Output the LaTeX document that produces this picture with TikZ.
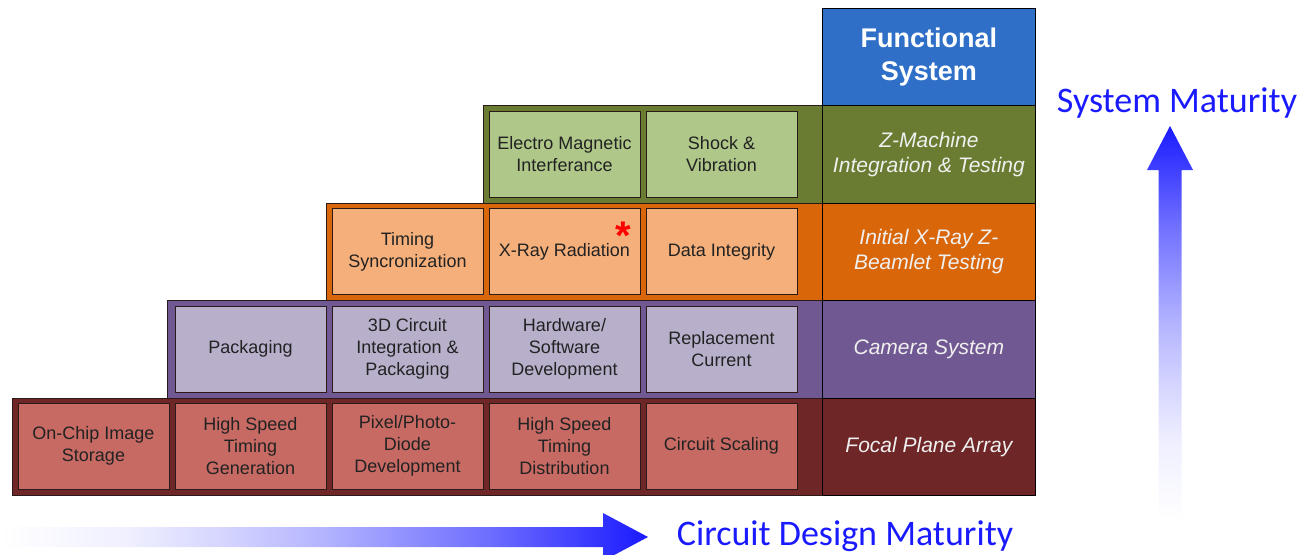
\documentclass[tikz,border=0pt]{standalone}
\usepackage{fontspec}
\setmainfont{Liberation Sans}
\newfontfamily\calibri{Carlito}
\definecolor{redband}{HTML}{6E2627}
\definecolor{redbox}{HTML}{C86A64}
\definecolor{purband}{HTML}{705893}
\definecolor{purbox}{HTML}{B8B0CB}
\definecolor{oraband}{HTML}{D9670A}
\definecolor{orabox}{HTML}{F5AF7B}
\definecolor{greband}{HTML}{697C31}
\definecolor{grebox}{HTML}{AFC88A}
\definecolor{topblue}{HTML}{2F6FC7}
\definecolor{arrblue}{HTML}{1A1AFF}
\definecolor{txt}{HTML}{222222}
\definecolor{lbl}{HTML}{F0F0F0}
\definecolor{edge}{HTML}{2A1A1A}
\pgfdeclareverticalshading{vfade}{100bp}{color(0bp)=(white); color(25bp)=(white); color(35bp)=(arrblue!7!white); color(42.5bp)=(arrblue!19!white); color(50bp)=(arrblue!33!white); color(62.5bp)=(arrblue!63!white); color(75bp)=(arrblue); color(100bp)=(arrblue)}
\pgfdeclarehorizontalshading{hfade}{100bp}{color(0bp)=(white); color(25bp)=(white); color(35bp)=(arrblue!7!white); color(42.5bp)=(arrblue!19!white); color(50bp)=(arrblue!33!white); color(62.5bp)=(arrblue!63!white); color(75bp)=(arrblue); color(100bp)=(arrblue)}
\begin{document}
\begin{tikzpicture}[x=1pt,y=-1pt,
  band/.style={draw=edge, line width=0.8pt, anchor=north west, inner sep=0pt, minimum height=97.5pt},
  labelcol/.style={draw=black, line width=0.8pt, anchor=north west, inner sep=0pt, minimum width=213pt, minimum height=97.5pt, text=lbl, align=center, font=\itshape\fontsize{21}{25}\selectfont},
  cell/.style={draw=edge, line width=0.8pt, inner sep=0pt, minimum width=151pt, minimum height=86pt, text=txt, align=center, font=\fontsize{18}{22}\selectfont},
  maturity/.style={text=arrblue, font=\calibri\fontsize{36}{40}\selectfont, anchor=base, inner sep=0pt}
]
\useasboundingbox (0,0) rectangle (1303,554);

% arrows
\shade[shading=hfade] (0,527) -- (603,527) -- (603,513) -- (648,537) -- (603,561) -- (603,547) -- (0,547) -- cycle;
\shade[shading=vfade] (1158.5,520) -- (1158.5,170) -- (1147,170) -- (1170,126) -- (1193,170) -- (1181.5,170) -- (1181.5,520) -- cycle;

% bands
\node[band, fill=redband, minimum width=810pt] (bandR) at (12,397.5) {};
\node[band, fill=purband, minimum width=655pt] (bandP) at (167,300) {};
\node[band, fill=oraband, minimum width=496pt] (bandO) at (326,202.5) {};
\node[band, fill=greband, minimum width=339pt] (bandG) at (483,105) {};

% label column
\node[labelcol, fill=redband] (lR) at (822,397.5) {Focal Plane Array};
\node[labelcol, fill=purband] (lP) at (822,300) {Camera System};
\node[labelcol, fill=oraband] (lO) at (822,202.5) {Initial X-Ray Z-\\Beamlet Testing};
\node[labelcol, fill=greband] (lG) at (822,105) {Z-Machine\\Integration \& Testing};
\node[labelcol, fill=topblue, minimum height=97pt, text=white, font=\bfseries\fontsize{27}{33}\selectfont] (lB) at (822,8) {Functional\\System};

% red row
\node[cell, fill=redbox] (r1) at (93.5,446) {On-Chip Image\\Storage};
\node[cell, fill=redbox] (r2) at (250.5,446) {High Speed\\Timing\\Generation};
\node[cell, fill=redbox] (r3) at (407.5,446) {Pixel/Photo-\\Diode\\Development};
\node[cell, fill=redbox] (r4) at (564.5,446) {High Speed\\Timing\\Distribution};
\node[cell, fill=redbox] (r5) at (721.5,446) {Circuit Scaling};

% purple row
\node[cell, fill=purbox] (p1) at (250.5,349) {Packaging};
\node[cell, fill=purbox] (p2) at (407.5,349) {3D Circuit\\Integration \&\\Packaging};
\node[cell, fill=purbox] (p3) at (564.5,349) {Hardware/\\Software\\Development};
\node[cell, fill=purbox] (p4) at (721.5,349) {Replacement\\Current};

% orange row
\node[cell, fill=orabox] (o1) at (407.5,251.5) {Timing\\Syncronization};
\node[cell, fill=orabox] (o2) at (564.5,251.5) {X-Ray Radiation};
\node[cell, fill=orabox] (o3) at (721.5,251.5) {Data Integrity};
\node[text=red, font=\bfseries\fontsize{40}{40}\selectfont, anchor=base, inner sep=0pt] (star) at (623,249) {\raisebox{0pt}[\height][-16pt]{*}};

% green row
\node[cell, fill=grebox] (g1) at (564.5,154) {Electro Magnetic\\Interferance};
\node[cell, fill=grebox] (g2) at (721.5,154) {Shock \&\\Vibration};

% axis labels
\node[maturity] (sysmat) at (1177,112) {System Maturity};
\node[maturity] (cirmat) at (845,545) {Circuit Design Maturity};
\end{tikzpicture}
\end{document}
